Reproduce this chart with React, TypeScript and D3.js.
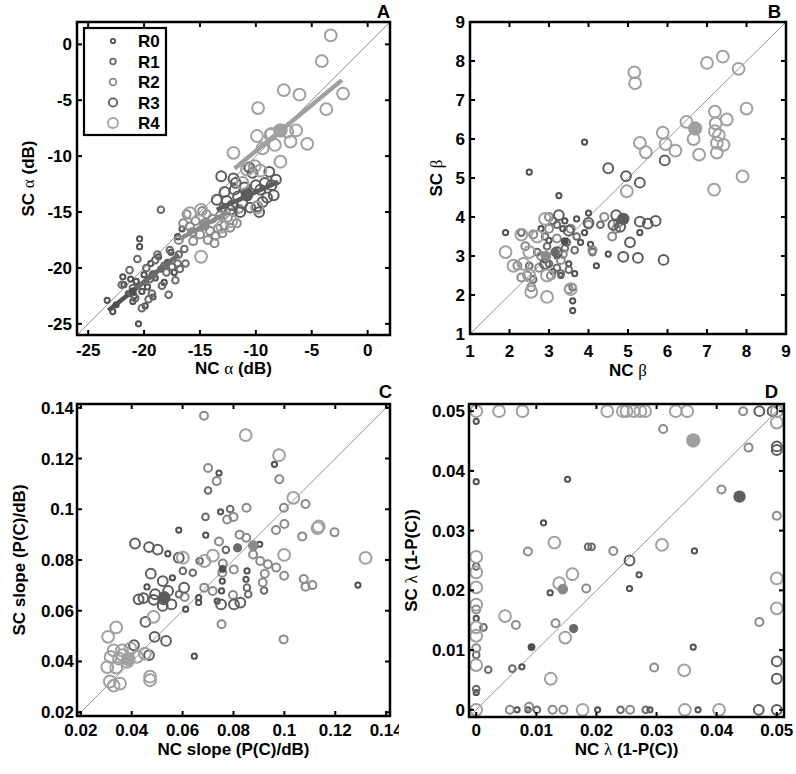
import React from "react";
import * as d3 from "d3";

type Pt = [number, number];

const groupNames = ["R0", "R1", "R2", "R3", "R4"];
const groupColors = ["#505050", "#6a6a6a", "#8a8a8a", "#5c5c5c", "#a0a0a0"];
const groupRadius = [2.6, 3.3, 4.0, 4.9, 5.9];

// ---------- Panel A: alpha (dB) ----------
const aR0: Pt[] = [[-23.3,-22.9],[-22.8,-23.9],[-22.5,-23.3],[-21.9,-20.8],[-21.8,-21.5],[-21.4,-22.3],[-21.0,-23.0],[-20.7,-21.2],[-20.5,-25.0],[-20.4,-17.4],[-20.4,-18.1],[-20.2,-22.1],[-20.0,-20.6],[-19.7,-21.7],[-19.4,-19.6],[-19.2,-22.6],[-19.0,-20.9],[-18.7,-19.0],[-18.5,-20.1],[-18.2,-21.3],[-17.9,-19.5],[-17.6,-18.6],[-17.3,-20.4],[-17.0,-17.2],[-16.6,-16.5],[-21.2,-21.0],[-20.9,-22.5],[-19.9,-23.4]];
const aR1: Pt[] = [[-22.0,-21.5],[-21.3,-20.2],[-20.8,-22.7],[-20.2,-23.6],[-19.8,-20.0],[-19.5,-21.0],[-19.0,-19.3],[-18.5,-14.8],[-18.4,-21.6],[-18.0,-20.4],[-17.8,-22.4],[-17.5,-19.9],[-17.2,-21.1],[-17.0,-19.6],[-16.8,-20.1],[-16.4,-18.3],[-19.3,-22.3],[-18.8,-18.8],[-20.6,-19.2],[-17.7,-18.4],[-16.9,-18.8],[-18.2,-19.8],[-19.6,-22.8],[-21.0,-21.8],[-16.3,-19.6]];
const aR2: Pt[] = [[-16.9,-17.5],[-16.2,-15.2],[-15.9,-16.3],[-15.6,-17.6],[-15.4,-15.8],[-15.0,-17.0],[-14.8,-14.9],[-14.6,-16.0],[-14.3,-17.5],[-14.1,-16.7],[-13.9,-15.6],[-13.6,-17.1],[-13.4,-16.5],[-13.2,-15.3],[-13.0,-16.9],[-12.8,-16.2],[-12.5,-15.5],[-12.3,-16.4],[-12.0,-15.0],[-11.7,-16.0],[-15.7,-16.8],[-14.4,-15.2],[-13.7,-17.8],[-12.9,-14.6],[-16.5,-16.0],[-11.5,-14.7]];
const aR3: Pt[] = [[-13.1,-11.8],[-12.8,-13.2],[-12.6,-14.0],[-12.3,-14.8],[-12.0,-12.0],[-11.8,-12.4],[-11.6,-13.6],[-11.4,-15.0],[-11.2,-14.2],[-11.0,-12.8],[-10.8,-13.3],[-10.5,-14.6],[-10.3,-11.5],[-10.0,-12.6],[-9.9,-14.5],[-9.6,-13.0],[-9.4,-14.1],[-9.2,-12.4],[-9.0,-13.7],[-8.8,-11.4],[-8.6,-12.6],[-8.4,-13.5],[-8.2,-12.1],[-13.5,-13.9],[-12.1,-14.4],[-10.6,-11.0],[-11.9,-13.0],[-9.7,-15.0]];
const aR4: Pt[] = [[-3.3,0.8],[-4.1,-1.5],[-2.2,-4.4],[-3.7,-5.8],[-7.5,-4.1],[-6.1,-4.5],[-9.8,-5.7],[-9.9,-8.2],[-5.4,-8.9],[-6.9,-8.7],[-6.4,-7.7],[-8.7,-8.1],[-12.0,-9.7],[-10.1,-10.9],[-9.6,-11.3],[-7.8,-10.5],[-9.9,-14.6],[-14.9,-19.0],[-15.9,-15.1],[-14.9,-14.8],[-8.3,-9.0],[-7.2,-7.8],[-9.4,-9.3],[-10.8,-11.2],[-11.2,-12.4],[-13.0,-16.3],[-12.2,-15.8],[-8.6,-8.0]];
const aMeans: Pt[] = [[-21.0,-22.1],[-19.2,-20.6],[-14.6,-16.2],[-10.8,-13.5],[-7.8,-7.7]];
const aFitStart: Pt[] = [[-23.2,-23.8],[-21.5,-22.4],[-16.8,-17.4],[-13.5,-14.8],[-11.9,-11.1]];
const aFitEnd: Pt[] = [[-18.8,-20.3],[-16.9,-18.8],[-12.5,-15.0],[-8.0,-12.3],[-2.3,-3.2]];
const aTicks = [-25, -20, -15, -10, -5, 0];

// ---------- Panel B: beta ----------
const bR0: Pt[] = [[1.9,3.6],[2.5,5.15],[3.25,4.55],[3.9,5.92],[2.8,3.7],[3.0,3.4],[3.2,3.0],[3.3,2.5],[3.5,2.8],[3.6,1.85],[3.6,1.6],[3.7,3.95],[3.8,3.35],[4.0,4.1],[4.05,3.3],[4.2,2.75],[3.1,2.6],[3.4,3.9],[2.9,2.9],[4.5,3.05],[5.3,3.6],[3.65,2.55],[3.35,3.7],[3.9,3.6]];
const bR1: Pt[] = [[2.3,3.6],[2.5,2.75],[2.7,3.1],[2.9,3.5],[3.0,2.8],[3.2,3.8],[3.3,2.55],[3.4,3.2],[3.6,2.2],[3.7,3.5],[3.1,3.9],[3.5,2.65],[2.6,2.4],[3.65,3.15],[4.1,3.1],[4.3,3.8],[3.45,3.35],[2.95,3.25],[3.2,2.7]];
const bR2: Pt[] = [[2.2,2.75],[2.3,2.45],[2.4,3.25],[2.55,2.2],[2.6,3.55],[2.8,3.0],[3.0,3.7],[3.05,2.5],[3.2,3.45],[3.3,2.9],[3.5,2.15],[3.55,3.7],[3.0,4.0],[4.0,3.8],[4.1,3.15],[4.7,3.7],[4.6,3.5],[4.75,3.85],[4.4,4.0],[2.45,2.5],[2.75,2.7],[3.35,3.05]];
const bR3: Pt[] = [[4.5,5.25],[5.93,5.45],[5.3,4.88],[4.95,5.05],[5.9,2.9],[4.88,2.98],[5.05,3.35],[5.3,3.88],[5.5,3.83],[5.7,3.9],[4.7,4.05],[4.63,3.8],[3.25,4.05],[3.5,3.65],[2.9,2.8],[4.0,3.85],[5.25,2.95],[4.8,3.75],[3.2,3.1]];
const bR4: Pt[] = [[7.4,8.11],[7.0,7.95],[7.8,7.8],[5.16,7.71],[5.18,7.43],[8.0,6.78],[7.2,6.7],[7.5,6.5],[6.48,6.44],[7.22,6.4],[6.66,6.0],[7.2,6.2],[7.3,6.1],[7.25,5.9],[7.25,5.65],[7.42,5.85],[6.8,5.6],[5.88,6.16],[5.95,5.87],[6.2,5.7],[5.3,5.9],[5.45,5.66],[7.9,5.04],[7.18,4.7],[4.97,4.66],[1.9,3.1],[2.1,2.75],[2.35,2.8],[2.5,3.1],[2.5,2.5],[2.55,2.08],[2.95,1.95],[2.95,2.5],[2.9,3.95],[2.7,3.5],[3.55,2.15],[2.3,3.55]];
const bMeans: Pt[] = [[3.4,3.38],[3.15,3.1],[2.92,3.0],[4.88,3.95],[6.7,6.27]];
const bTicks = [1, 2, 3, 4, 5, 6, 7, 8, 9];

// ---------- Panel C: slope ----------
const cR0: Pt[] = [[0.0961,0.1177],[0.0743,0.1143],[0.0749,0.099],[0.0585,0.0918],[0.0542,0.0825],[0.0903,0.0862],[0.0853,0.0757],[0.0849,0.0724],[0.0756,0.0717],[0.0753,0.0678],[0.0736,0.0638],[0.0663,0.0652],[0.0663,0.0632],[0.0612,0.0606],[0.0646,0.0421],[0.1289,0.0701],[0.046,0.0694],[0.0691,0.0898],[0.0560,0.0730]];
const cR1: Pt[] = [[0.070,0.1074],[0.069,0.097],[0.0787,0.1001],[0.0601,0.0757],[0.064,0.075],[0.0667,0.0796],[0.0858,0.0665],[0.0586,0.0665],[0.0853,0.0691],[0.0920,0.0680],[0.0770,0.0840]];
const cR2: Pt[] = [[0.0684,0.1369],[0.070,0.1163],[0.0734,0.1111],[0.098,0.1118],[0.1083,0.1021],[0.0998,0.1006],[0.0851,0.1006],[0.0775,0.096],[0.080,0.097],[0.100,0.0942],[0.0967,0.0918],[0.107,0.0893],[0.0824,0.09],[0.0877,0.0822],[0.0905,0.0796],[0.0935,0.0783],[0.0968,0.077],[0.0923,0.0746],[0.0915,0.0711],[0.1076,0.0725],[0.1083,0.0695],[0.111,0.0701],[0.0999,0.0738],[0.0801,0.0763],[0.0798,0.0662],[0.0758,0.0786],[0.0756,0.075],[0.0718,0.0678],[0.0685,0.0691],[0.0608,0.0654],[0.0753,0.0547],[0.0997,0.0487],[0.1197,0.0909],[0.0743,0.0873],[0.085,0.0888]];
const cR3: Pt[] = [[0.0413,0.0865],[0.0468,0.0851],[0.0502,0.0841],[0.0475,0.0746],[0.0427,0.0645],[0.0446,0.065],[0.0492,0.0665],[0.0525,0.0645],[0.0556,0.0625],[0.0522,0.0619],[0.0486,0.0643],[0.0543,0.0678],[0.0522,0.0717],[0.0454,0.0556],[0.049,0.0497],[0.0535,0.0481],[0.0585,0.0809],[0.0606,0.0691],[0.0802,0.0625],[0.0827,0.0632],[0.0751,0.0625],[0.0468,0.0425],[0.0409,0.0464]];
const cR4: Pt[] = [[0.0307,0.0497],[0.0339,0.0534],[0.0329,0.0444],[0.0304,0.0378],[0.0314,0.0321],[0.0329,0.0305],[0.0354,0.0313],[0.0339,0.0376],[0.0362,0.0444],[0.0395,0.0451],[0.0421,0.0418],[0.0382,0.0398],[0.035,0.0411],[0.0317,0.0418],[0.0452,0.0431],[0.0472,0.034],[0.0472,0.0326],[0.0486,0.0576],[0.0848,0.1292],[0.0979,0.1213],[0.1319,0.0808],[0.113,0.0926],[0.1135,0.0932],[0.0601,0.0809],[0.0686,0.0796],[0.0719,0.0817],[0.1035,0.1045],[0.0364,0.0425],[0.0999,0.0820]];
const cMeans: Pt[] = [[0.0757,0.0765],[0.0816,0.0848],[0.0878,0.0857],[0.0528,0.0653],[0.0387,0.0409]];
const cTicks = [0.02, 0.04, 0.06, 0.08, 0.1, 0.12, 0.14];

// ---------- Panel D: lambda ----------
const dR0: Pt[] = [[0,0.0483],[0,0.0382],[0.0152,0.0386],[0.0112,0.0313],[0.0123,0.0196],[0.0255,0.0203],[0.0363,0.0266],[0.0361,0.0105],[0.0068,0],[0.0086,0],[0.0202,0],[0.0289,0],[0.0369,0],[0,0.0029],[0,0.0153],[0.0271,0.0226],[0.0076,0.0072]];
const dR1: Pt[] = [[0.0186,0.0273],[0.0192,0.0273],[0,0.0035],[0.0012,0.0138],[0.002,0.0067],[0.006,0.0069],[0,0.024],[0.0101,0],[0.0282,0],[0.024,0],[0,0.0092]];
const dR2: Pt[] = [[0.0311,0.047],[0.0453,0.0439],[0.0408,0.0369],[0.05,0.0325],[0.0228,0.0266],[0.0183,0.0203],[0.0066,0.0142],[0.0132,0.0145],[0.0471,0.0147],[0.0296,0.0071],[0,0.0168],[0,0.0103],[0.0056,0],[0.0127,0],[0.0256,0],[0.0145,0],[0.0086,0.0265],[0.0088,0.0005],[0.0444,0.05]];
const dR3: Pt[] = [[0.0471,0.05],[0.0255,0.025],[0.05,0.0435],[0.05,0.0081],[0.05,0.0052],[0.047,0],[0.05,0],[0.0493,0.05],[0.05,0.0441]];
const dR4: Pt[] = [[0,0.05],[0.0038,0.05],[0.0077,0.05],[0.0218,0.05],[0.0244,0.05],[0.025,0.05],[0.0262,0.05],[0.0273,0.05],[0.0281,0.05],[0.0332,0.05],[0.0351,0.05],[0.05,0.05],[0,0],[0.0177,0],[0.0347,0],[0.0404,0],[0,0.0256],[0,0.023],[0,0.0205],[0,0.0176],[0,0.0138],[0,0.0124],[0,0.0075],[0.05,0.017],[0.05,0.022],[0.05,0.0481],[0.013,0.028],[0.0048,0.0157],[0.016,0.0227],[0.0138,0.0212],[0.0148,0.0121],[0.0124,0.0052],[0.0309,0.0276],[0.0346,0.0066]];
const dMeans: Pt[] = [[0.0092,0.0105],[0.0162,0.0136],[0.0144,0.0202],[0.0438,0.0357],[0.0361,0.0451]];
const dTicks = [0, 0.01, 0.02, 0.03, 0.04, 0.05];

const FONT = "'Liberation Sans', Arial, sans-serif";
const GREEK = "'Liberation Serif', 'DejaVu Serif', serif";

interface PanelProps {
  id: string;
  left: number; right: number; top: number; bottom: number;
  xDomain: [number, number]; yDomain: [number, number];
  xTicks: number[]; yTicks: number[];
  series: Pt[][]; means: Pt[];
  fitStart?: Pt[]; fitEnd?: Pt[];
  xTitle: React.ReactNode; yTitle: React.ReactNode;
  xLabelY: number; xTitleY: number; yLabelX: number; yTitleX: number;
  letter: string; letterX: number; letterY: number;
  clipRight?: number;
  legend?: boolean;
}

function fmt(v: number) {
  return String(+v.toFixed(4));
}

function Panel(p: PanelProps) {
  const xs = d3.scaleLinear().domain(p.xDomain).range([p.left, p.right]);
  const ys = d3.scaleLinear().domain(p.yDomain).range([p.bottom, p.top]);
  const lo = Math.max(p.xDomain[0], p.yDomain[0]);
  const hi = Math.min(p.xDomain[1], p.yDomain[1]);
  const tl = 5;
  const cx = (p.left + p.right) / 2;
  const cy = (p.top + p.bottom) / 2;
  const line = d3.line<Pt>().x((d) => xs(d[0])).y((d) => ys(d[1]));
  return (
    <g clipPath={p.clipRight ? `url(#clip${p.id})` : undefined}>
      {p.clipRight ? (
        <defs>
          <clipPath id={`clip${p.id}`}>
            <rect x={0} y={p.top - 40} width={p.clipRight} height={p.bottom - p.top + 100} />
          </clipPath>
        </defs>
      ) : null}
      <rect x={p.left} y={p.top} width={p.right - p.left} height={p.bottom - p.top} fill="#fff" />
      <path d={line([[lo, lo], [hi, hi]]) || ""} stroke="#777" strokeWidth={0.8} fill="none" />
      {p.series.map((pts, g) =>
        pts.map((d, i) => (
          <circle key={`${g}-${i}`} cx={xs(d[0])} cy={ys(d[1])} r={groupRadius[g]}
            fill="none" stroke={groupColors[g]} strokeWidth={2} />
        ))
      )}
      {p.fitStart && p.fitEnd
        ? p.fitStart.map((s, g) => (
            <path key={`fit${g}`} d={line([s, p.fitEnd![g]]) || ""} stroke={groupColors[g]}
              strokeWidth={4.5} fill="none" />
          ))
        : null}
      {p.means.map((d, g) => (
        <circle key={`m${g}`} cx={xs(d[0])} cy={ys(d[1])} r={groupRadius[g] + 1.3}
          fill={groupColors[g]} stroke="none" />
      ))}
      {p.xTicks.map((t) => (
        <g key={`xt${t}`}>
          <line x1={xs(t)} x2={xs(t)} y1={p.bottom} y2={p.bottom - tl} stroke="#000" strokeWidth={2} />
          <line x1={xs(t)} x2={xs(t)} y1={p.top} y2={p.top + tl} stroke="#000" strokeWidth={2} />
          <text x={xs(t)} y={p.xLabelY} textAnchor="middle" fontFamily={FONT} fontWeight="bold" fontSize={17}>
            {fmt(t)}
          </text>
        </g>
      ))}
      {p.yTicks.map((t) => (
        <g key={`yt${t}`}>
          <line x1={p.left} x2={p.left + tl} y1={ys(t)} y2={ys(t)} stroke="#000" strokeWidth={2} />
          <line x1={p.right} x2={p.right - tl} y1={ys(t)} y2={ys(t)} stroke="#000" strokeWidth={2} />
          <text x={p.yLabelX} y={ys(t) + 6} textAnchor="end" fontFamily={FONT} fontWeight="bold" fontSize={17}>
            {fmt(t)}
          </text>
        </g>
      ))}
      <rect x={p.left} y={p.top} width={p.right - p.left} height={p.bottom - p.top} fill="none"
        stroke="#000" strokeWidth={2.5} />
      <text x={cx} y={p.xTitleY} textAnchor="middle" fontFamily={FONT} fontWeight="bold" fontSize={17}>
        {p.xTitle}
      </text>
      <text transform={`translate(${p.yTitleX},${cy}) rotate(-90)`} textAnchor="middle"
        fontFamily={FONT} fontWeight="bold" fontSize={17}>
        {p.yTitle}
      </text>
      <text x={p.letterX} y={p.letterY} textAnchor="end" fontFamily={FONT} fontWeight="bold" fontSize={18.5}>
        {p.letter}
      </text>
      {p.legend ? (
        <g>
          <rect x={84} y={28} width={82} height={107} fill="#fff" stroke="#000" strokeWidth={2.2} />
          {groupNames.map((n, g) => (
            <g key={n}>
              <circle cx={113} cy={41 + g * 20.5} r={groupRadius[g] * 0.85} fill="none"
                stroke={groupColors[g]} strokeWidth={1.8} />
              <text x={138} y={41 + g * 20.5 + 6} fontFamily={FONT} fontWeight="bold" fontSize={17}>
                {n}
              </text>
            </g>
          ))}
        </g>
      ) : null}
    </g>
  );
}

const G = (c: string) => (
  <tspan fontFamily={GREEK} fontWeight="normal">{c}</tspan>
);

export default function App() {
  return (
    <svg width={796} height={774} style={{ position: "absolute", left: 0, top: 0, background: "#fff" }}>
      <rect x={0} y={0} width={796} height={774} fill="#fff" />
      <Panel id="A" left={77} right={390} top={22} bottom={335}
        xDomain={[-26, 2]} yDomain={[-26, 2]} xTicks={aTicks} yTicks={aTicks}
        series={[aR0, aR1, aR2, aR3, aR4]} means={aMeans} fitStart={aFitStart} fitEnd={aFitEnd}
        xTitle={<>NC {G("α")} (dB)</>} yTitle={<>SC {G("α")} (dB)</>}
        xLabelY={356} xTitleY={374} yLabelX={72} yTitleX={34}
        letter="A" letterX={390} letterY={18} legend />
      <Panel id="B" left={470} right={786} top={22} bottom={334}
        xDomain={[1, 9]} yDomain={[1, 9]} xTicks={bTicks} yTicks={bTicks}
        series={[bR0, bR1, bR2, bR3, bR4]} means={bMeans}
        xTitle={<>NC {G("β")}</>} yTitle={<>SC {G("β")}</>}
        xLabelY={357} xTitleY={376} yLabelX={465} yTitleX={442}
        letter="B" letterX={781} letterY={18} />
      <Panel id="C" left={77} right={390} top={404} bottom={716}
        xDomain={[0.0185, 0.1415]} yDomain={[0.0185, 0.1415]} xTicks={cTicks} yTicks={cTicks}
        series={[cR0, cR1, cR2, cR3, cR4]} means={cMeans}
        xTitle={<>NC slope (P(C)/dB)</>} yTitle={<>SC slope (P(C)/dB)</>}
        xLabelY={736} xTitleY={755} yLabelX={74} yTitleX={25}
        letter="C" letterX={392} letterY={398} clipRight={399} />
      <Panel id="D" left={469} right={784} top={404} bottom={717}
        xDomain={[-0.0012, 0.0512]} yDomain={[-0.0012, 0.0512]} xTicks={dTicks} yTicks={dTicks}
        series={[dR0, dR1, dR2, dR3, dR4]} means={dMeans}
        xTitle={<>NC {G("λ")} (1-P(C))</>} yTitle={<>SC {G("λ")} (1-P(C))</>}
        xLabelY={736} xTitleY={755} yLabelX={465} yTitleX={417}
        letter="D" letterX={778} letterY={398} />
    </svg>
  );
}
